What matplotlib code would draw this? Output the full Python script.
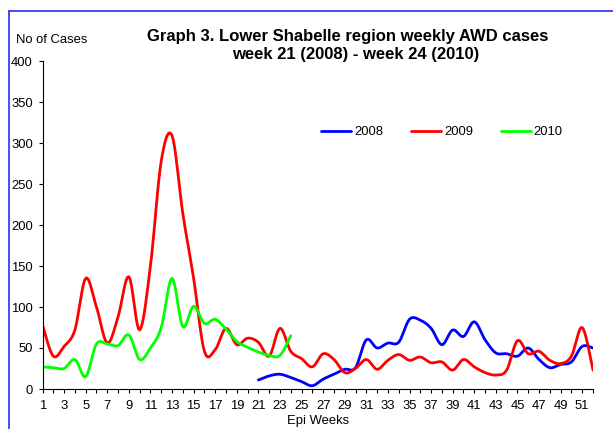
import numpy as np
import matplotlib
matplotlib.use("Agg")
import matplotlib.pyplot as plt
from matplotlib.lines import Line2D

# weekly AWD cases
weeks_2008 = list(range(21, 53))
cases_2008 = [11, 16, 18, 14, 9, 4, 12, 18, 24, 26,
              60, 50, 56, 57, 85, 84, 74, 54, 72, 64,
              82, 60, 44, 43, 40, 50, 36, 26, 30, 33,
              52, 50]

weeks_2009 = list(range(1, 53))
cases_2009 = [78, 40, 52, 72, 135, 100, 56, 88, 137, 72,
              150, 278, 309, 214, 135, 46, 48, 74, 54, 62,
              57, 40, 74, 46, 37, 27, 43, 36, 20, 25,
              36, 24, 35, 42, 35, 39, 32, 33, 23, 36,
              27, 20, 17, 23, 59, 43, 46, 35, 31, 40,
              75, 23]

weeks_2010 = list(range(1, 25))
cases_2010 = [27, 26, 25, 36, 15, 55, 55, 53, 66, 36,
              50, 75, 135, 76, 101, 80, 85, 73, 58, 51,
              45, 41, 41, 65]

series_names = ["2008", "2009", "2010"]
series_colors = ["#0000ff", "#ff0000", "#00ff00"]
y_ticks = [0, 50, 100, 150, 200, 250, 300, 350, 400]


def smooth(xs, ys, n=10):
	# excel like smoothed line: bezier segments through every point
	x = np.asarray(xs, float)
	y = np.asarray(ys, float)
	px = np.concatenate([[x[0]], x, [x[-1]]])
	py = np.concatenate([[y[0]], y, [y[-1]]])
	t = np.linspace(0, 1, n)[:, None]
	out = []
	for i in range(1, len(px) - 2):
		p0 = np.array([px[i], py[i]])
		p3 = np.array([px[i + 1], py[i + 1]])
		c1 = p0 + (np.array([px[i + 1], py[i + 1]]) - np.array([px[i - 1], py[i - 1]])) / 6
		c2 = p3 - (np.array([px[i + 2], py[i + 2]]) - np.array([px[i], py[i]])) / 6
		seg = (1 - t) ** 3 * p0 + 3 * (1 - t) ** 2 * t * c1 + 3 * (1 - t) * t ** 2 * c2 + t ** 3 * p3
		out.append(seg if i == 1 else seg[1:])
	out = np.vstack(out)
	return out[:, 0], out[:, 1]


def main():
	plt.rcParams['font.family'] = ['Liberation Sans', 'DejaVu Sans']
	W, H = 613, 429
	fig = plt.figure(figsize=(W / 100, H / 100), dpi=100)
	ax = fig.add_axes([42.5 / W, 1 - 389 / H, (593 - 42.5) / W, (389 - 61) / H])

	data = [(weeks_2008, cases_2008), (weeks_2009, cases_2009), (weeks_2010, cases_2010)]
	for (wk, cs), name, col in zip(data, series_names, series_colors):
		sx, sy = smooth(wk, cs)
		ax.plot(sx, sy, color=col, lw=2, label=name, solid_capstyle='round')

	ax.set_xlim(1, 52)
	ax.set_ylim(0, 400)
	ax.set_yticks(y_ticks)
	ax.set_xticks(weeks_2009)
	ax.set_xticklabels([str(w) if w % 2 == 1 else "" for w in weeks_2009])
	for s in ['top', 'right']:
		ax.spines[s].set_visible(False)
	for s in ['left', 'bottom']:
		ax.spines[s].set_linewidth(0.8)
	ax.tick_params(axis='both', direction='out', length=2.7, width=0.8, labelsize=9.4, colors='black')
	ax.tick_params(axis='x', pad=5.5)
	ax.tick_params(axis='y', pad=4.3)

	fig.text(15.7 / W, 1 - 40 / H, "No of Cases", ha='left', va='center', fontsize=9.4)
	fig.text(347.5 / W, 1 - 37 / H, "Graph 3. Lower Shabelle region weekly AWD cases",
		ha='center', va='center', fontsize=12, fontweight='bold')
	fig.text(356 / W, 1 - 55 / H, "week 21 (2008) - week 24 (2010)",
		ha='center', va='center', fontsize=12, fontweight='bold')
	fig.text(318 / W, 1 - 421 / H, "Epi Weeks", ha='center', va='center', fontsize=9.4)

	fig.legend(loc='center left', bbox_to_anchor=(321 / W, 1 - 132 / H), ncol=3,
		frameon=False, fontsize=9.4, handlelength=2.3, handletextpad=0.25,
		columnspacing=2.1, borderpad=0, borderaxespad=0)

	# blue outer frame (only top and left visible)
	fig.add_artist(Line2D([9 / W, 9 / W], [0, 1 - 11 / H], color='#3c3cff', lw=1.3))
	fig.add_artist(Line2D([9 / W, 1], [1 - 11 / H, 1 - 11 / H], color='#3c3cff', lw=1.3))

	fig.savefig("out.png", dpi=100)


if __name__ == "__main__":
	main()
